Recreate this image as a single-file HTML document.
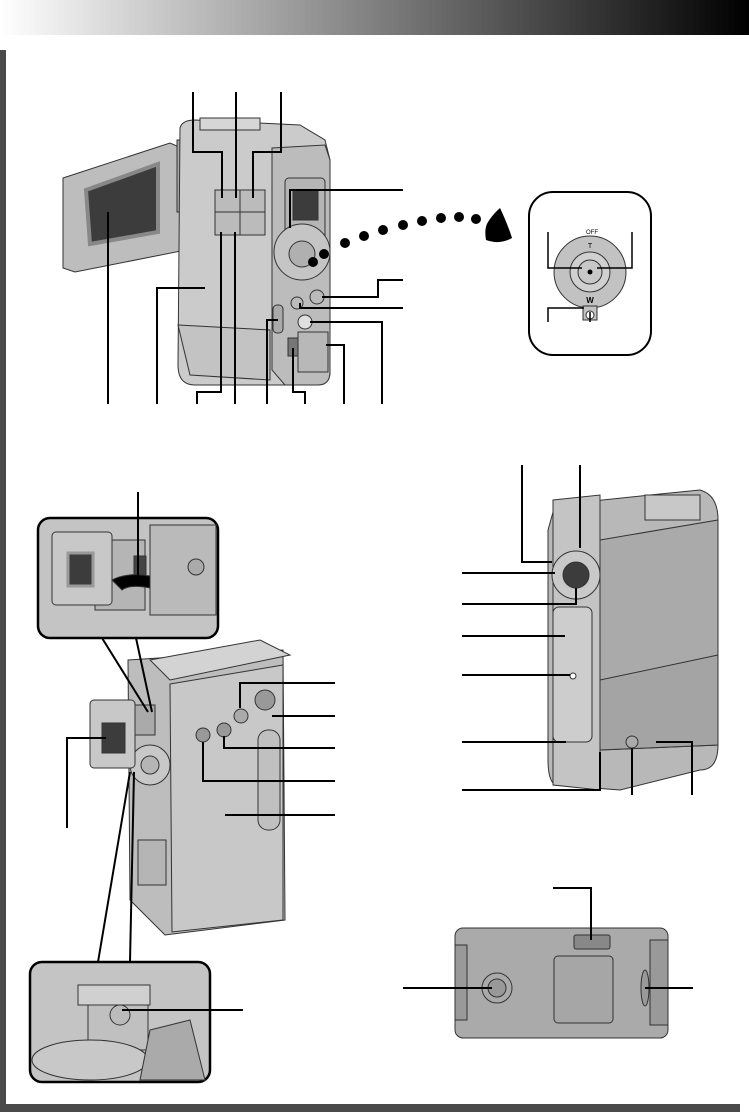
<!DOCTYPE html>
<html><head><meta charset="utf-8"><style>
html,body{margin:0;padding:0;background:#fff;}
svg{display:block;}
</style></head><body>
<svg width="749" height="1112" viewBox="0 0 749 1112" xmlns="http://www.w3.org/2000/svg" font-family="Liberation Sans, sans-serif">
<defs>
<linearGradient id="g" x1="0" x2="1" y1="0" y2="0"><stop offset="0" stop-color="#fff"/><stop offset="1" stop-color="#000"/></linearGradient>
</defs>
<rect x="0" y="0" width="749" height="35" fill="url(#g)"/>
<rect x="0" y="50" width="6" height="1062" fill="#4a4a4a"/>
<rect x="0" y="1104" width="740" height="8" fill="#4a4a4a"/>

<g stroke="#333" stroke-width="1">
<!-- TOP CAMCORDER -->
<path d="M63,178 L170,143 L186,150 L186,250 L75,272 L63,268 Z" fill="#bdbdbd"/>
<path d="M86,190 L158,164 L158,232 L90,244 Z" fill="#3c3c3c" stroke="#888" stroke-width="4"/>
<rect x="177" y="140" width="16" height="72" fill="#a9a9a9"/>
<path d="M180,128 Q182,120 195,120 L300,125 L325,140 L330,160 L330,372 Q330,385 315,385 L195,385 Q178,385 178,365 Z" fill="#cbcbcb"/>
<path d="M272,148 L325,145 L330,160 L330,372 Q330,385 318,385 L285,385 L272,370 Z" fill="#bcbcbc"/>
<rect x="200" y="118" width="60" height="12" fill="#d6d6d6"/>
<rect x="215" y="190" width="50" height="45" fill="#bbb"/>
<line x1="240" y1="190" x2="240" y2="235"/><line x1="215" y1="212" x2="265" y2="212"/>
<rect x="285" y="178" width="40" height="62" rx="4" fill="#b5b5b5"/>
<rect x="293" y="190" width="25" height="30" fill="#3c3c3c"/>
<circle cx="302" cy="252" r="28" fill="#c5c5c5"/>
<circle cx="302" cy="254" r="13" fill="#b0b0b0"/>
<circle cx="317" cy="297" r="7" fill="#bbb"/>
<circle cx="297" cy="303" r="6" fill="#bbb"/>
<circle cx="305" cy="322" r="7" fill="#e0e0e0"/>
<rect x="273" y="305" width="10" height="28" rx="4" fill="#aaa"/>
<rect x="288" y="338" width="10" height="18" fill="#777"/>
<rect x="298" y="332" width="30" height="40" fill="#b8b8b8"/>
<path d="M178,325 L270,330 L270,380 L190,375 Z" fill="#c3c3c3"/>
</g>
<g stroke="#000" stroke-width="2" fill="none">
<polyline points="193,92 193,152 222,152 222,198"/>
<polyline points="236,92 236,198"/>
<polyline points="281,92 281,152 253,152 253,198"/>
<polyline points="108,404 108,212"/>
<polyline points="157,404 157,288 205,288"/>
<polyline points="197,404 197,392 221,392 221,232"/>
<polyline points="235,404 235,232"/>
<polyline points="267,404 267,320 278,320"/>
<polyline points="305,404 305,392 293,392 293,348"/>
<polyline points="344,404 344,345 326,345"/>
<polyline points="382,404 382,322 310,322"/>
<polyline points="403,190 290,190 290,228"/>
<polyline points="403,280 378,280 378,297 322,297"/>
<polyline points="403,308 300,308 300,303"/>
</g>
<g fill="#000">
<circle cx="313" cy="262" r="5"/><circle cx="324" cy="254" r="5"/>
<circle cx="345" cy="243" r="5"/><circle cx="364" cy="236" r="5"/><circle cx="383" cy="230" r="5"/>
<circle cx="403" cy="225" r="5"/><circle cx="422" cy="221" r="5"/><circle cx="441" cy="218" r="5"/>
<circle cx="459" cy="217" r="5"/><circle cx="476" cy="219" r="5"/>
<path d="M500,208 Q508,225 512,238 Q500,245 486,240 Q484,228 488,222 Q493,214 500,208 Z"/>
</g>
<!-- dial box -->
<rect x="529" y="192" width="122" height="163" rx="24" fill="#fff" stroke="#000" stroke-width="2"/>
<circle cx="590" cy="272" r="36" fill="#c2c2c2" stroke="#333"/>
<circle cx="590" cy="272" r="20" fill="#d0d0d0" stroke="#333"/>
<circle cx="590" cy="272" r="12" fill="#c8c8c8" stroke="#333"/>
<rect x="583" y="306" width="14" height="14" fill="#c2c2c2" stroke="#333"/>
<circle cx="590" cy="315" r="4" fill="#fff" stroke="#333"/>
<circle cx="590" cy="272" r="2.5" fill="#000"/>
<text x="590" y="248" font-size="7" text-anchor="middle">T</text>
<text x="590" y="303" font-size="8" font-weight="bold" text-anchor="middle">W</text>
<text x="592" y="234" font-size="6" text-anchor="middle">OFF</text>
<g stroke="#000" stroke-width="1.5" fill="none">
<polyline points="548,232 548,268 582,268"/>
<polyline points="632,232 632,268 597,268"/>
<polyline points="548,322 548,308 584,308"/>
<polyline points="590,322 590,312"/>
</g>

<!-- MIDDLE LEFT -->
<g stroke="#333" stroke-width="1">
<rect x="38" y="518" width="180" height="120" rx="12" fill="#c4c4c4" stroke="#000" stroke-width="2.5"/>
<rect x="150" y="525" width="66" height="90" fill="#bababa"/>
<circle cx="196" cy="567" r="8" fill="#aaa"/>
<rect x="95" y="540" width="50" height="70" fill="#b5b5b5"/>
<rect x="52" y="532" width="60" height="73" rx="4" fill="#c8c8c8"/>
<rect x="68" y="553" width="25" height="33" fill="#3c3c3c" stroke="#999" stroke-width="3"/>
<rect x="134" y="556" width="12" height="24" fill="#444"/>
<path d="M112,580 Q128,572 150,576 L150,588 Q130,584 122,590 Z" fill="#000"/>
<path d="M128,660 L283,650 L285,920 L165,935 L130,900 Z" fill="#bdbdbd"/>
<path d="M170,684 L283,665 L283,920 L172,932 Z" fill="#c8c8c8"/>
<path d="M150,660 L260,640 L290,655 L170,680 Z" fill="#d3d3d3"/>
<rect x="258" y="730" width="22" height="100" rx="10" fill="#c0c0c0"/>
<circle cx="203" cy="735" r="7" fill="#999"/>
<circle cx="224" cy="730" r="7" fill="#999"/>
<circle cx="241" cy="716" r="7" fill="#aaa"/>
<circle cx="265" cy="700" r="10" fill="#999"/>
<circle cx="150" cy="765" r="20" fill="#c8c8c8"/>
<circle cx="150" cy="765" r="9" fill="#b5b5b5"/>
<rect x="138" y="840" width="28" height="45" fill="#b5b5b5"/>
<rect x="90" y="700" width="45" height="68" rx="4" fill="#c8c8c8"/>
<rect x="102" y="723" width="23" height="30" fill="#3c3c3c"/>
<rect x="135" y="705" width="20" height="30" fill="#aaa"/>
<rect x="30" y="962" width="180" height="120" rx="12" fill="#c4c4c4" stroke="#000" stroke-width="2.5"/>
<rect x="78" y="985" width="72" height="20" fill="#d0d0d0"/>
<rect x="88" y="1005" width="60" height="45" fill="#c0c0c0"/>
<ellipse cx="90" cy="1060" rx="58" ry="20" fill="#c8c8c8"/>
<circle cx="120" cy="1015" r="10" fill="#bbb"/>
<path d="M150,1030 L190,1020 L205,1080 L140,1080 Z" fill="#aaa"/>
</g>
<g stroke="#000" stroke-width="2" fill="none">
<line x1="138" y1="492" x2="138" y2="580"/>
<line x1="102" y1="638" x2="148" y2="712"/>
<line x1="136" y1="638" x2="152" y2="712"/>
<line x1="130" y1="772" x2="98" y2="962"/>
<line x1="134" y1="772" x2="130" y2="962"/>
<polyline points="335,683 240,683 240,708"/>
<polyline points="335,716 272,716"/>
<polyline points="335,748 224,748 224,736"/>
<polyline points="335,781 203,781 203,742"/>
<polyline points="335,815 225,815"/>
<polyline points="67,828 67,738 106,738"/>
<line x1="243" y1="1010" x2="122" y2="1010"/>
</g>

<!-- RIGHT CAMCORDER -->
<g stroke="#333" stroke-width="1">
<path d="M555,505 L650,495 L700,490 Q718,495 718,520 L718,745 Q718,770 700,770 L620,790 L555,785 Q548,780 548,760 L548,530 Z" fill="#b8b8b8"/>
<path d="M600,540 L718,520 L718,745 L600,750 Z" fill="#aaa"/>
<path d="M600,680 L718,655 L718,745 L600,750 Z" fill="#a4a4a4"/>
<rect x="645" y="495" width="55" height="25" fill="#c8c8c8"/>
<path d="M553,500 L600,495 L600,790 L553,785 Z" fill="#c4c4c4"/>
<circle cx="576" cy="575" r="24" fill="#c9c9c9"/>
<circle cx="576" cy="575" r="13" fill="#3c3c3c"/>
<rect x="553" y="607" width="39" height="135" rx="6" fill="#cdcdcd"/>
<circle cx="573" cy="676" r="3" fill="#fff"/>
<circle cx="632" cy="742" r="6" fill="#aaa"/>
</g>
<g stroke="#000" stroke-width="2" fill="none">
<polyline points="522,465 522,562 552,562"/>
<polyline points="580,465 580,548"/>
<line x1="462" y1="573" x2="555" y2="573"/>
<polyline points="462,604 576,604 576,588"/>
<line x1="462" y1="636" x2="565" y2="636"/>
<line x1="462" y1="675" x2="570" y2="675"/>
<line x1="462" y1="742" x2="566" y2="742"/>
<polyline points="462,790 600,790 600,752"/>
<line x1="632" y1="795" x2="632" y2="748"/>
<polyline points="692,795 692,742 656,742"/>
</g>

<!-- BOTTOM VIEW -->
<g stroke="#333" stroke-width="1">
<rect x="455" y="928" width="213" height="110" rx="8" fill="#aaa"/>
<rect x="455" y="945" width="12" height="75" fill="#999"/>
<rect x="650" y="940" width="18" height="85" fill="#999"/>
<circle cx="497" cy="988" r="15" fill="#aaa"/>
<circle cx="497" cy="988" r="9" fill="#999"/>
<rect x="574" y="935" width="36" height="14" rx="2" fill="#888"/>
<rect x="554" y="956" width="59" height="67" rx="4" fill="#a6a6a6"/>
<ellipse cx="645" cy="988" rx="4" ry="18" fill="#999"/>
</g>
<g stroke="#000" stroke-width="2" fill="none">
<polyline points="553,888 591,888 591,940"/>
<line x1="403" y1="988" x2="492" y2="988"/>
<line x1="645" y1="988" x2="693" y2="988"/>
</g>
</svg>
</body></html>
